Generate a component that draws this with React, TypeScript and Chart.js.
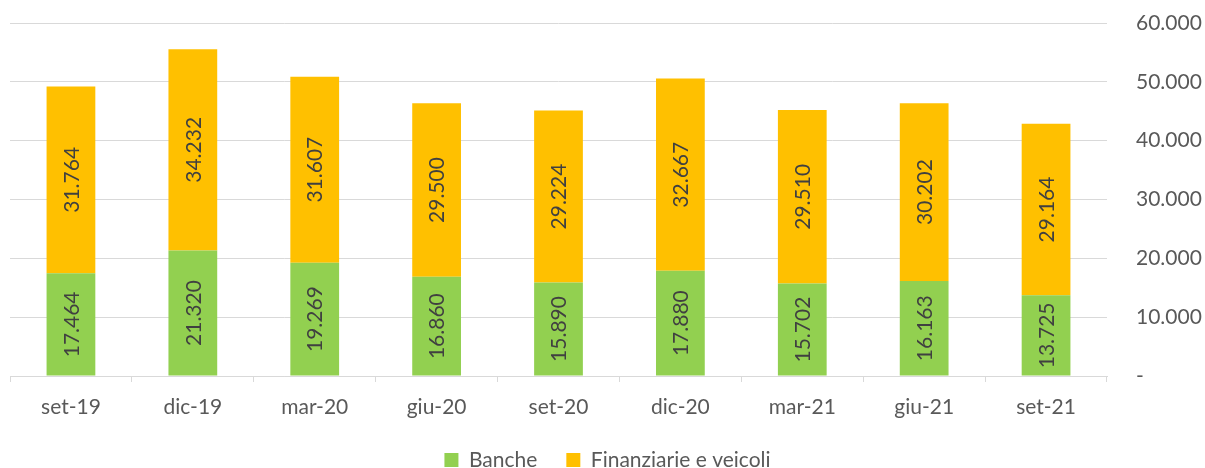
import React, { useEffect, useRef } from "react";
import { Chart, registerables } from "chart.js";

Chart.register(...registerables);

const categories = ["set-19", "dic-19", "mar-20", "giu-20", "set-20", "dic-20", "mar-21", "giu-21", "set-21"];
const banche = [17464, 21320, 19269, 16860, 15890, 17880, 15702, 16163, 13725];
const finanziarie = [31764, 34232, 31607, 29500, 29224, 32667, 29510, 30202, 29164];
const yTicks = [0, 10000, 20000, 30000, 40000, 50000, 60000];

const FONT = "Lato, 'Noto Sans', sans-serif";
const FS = 21;

const fmt = (n: number) => (n === 0 ? "-" : String(Math.round(n)).replace(/\B(?=(\d{3})+(?!\d))/g, "."));

const dataLabelPlugin = {
  id: "vlabels",
  afterDatasetsDraw(chart: any) {
    const ctx = chart.ctx;
    ctx.save();
    ctx.font = `${FS}px ${FONT}`;
    ctx.fillStyle = "#404040";
    ctx.textAlign = "center";
    ctx.textBaseline = "middle";
    chart.data.datasets.forEach((ds: any, di: number) => {
      const meta = chart.getDatasetMeta(di);
      meta.data.forEach((bar: any, i: number) => {
        const cy = (bar.y + bar.base) / 2;
        ctx.save();
        ctx.translate(bar.x, cy);
        ctx.rotate(-Math.PI / 2);
        ctx.fillText(fmt(ds.data[i]), 0, 1);
        ctx.restore();
      });
    });
    ctx.restore();
  },
};

export default function App() {
  const ref = useRef<HTMLCanvasElement>(null);
  useEffect(() => {
    if (!ref.current) return;
    const chart = new Chart(ref.current, {
      type: "bar",
      data: {
        labels: categories,
        datasets: [
          { label: "Banche", data: banche, backgroundColor: "#92D050" },
          { label: "Finanziarie e veicoli", data: finanziarie, backgroundColor: "#FFC000" },
        ],
      },
      options: {
        animation: false,
        responsive: false,
        maintainAspectRatio: false,
        layout: { autoPadding: false, padding: { top: 23, left: 10, right: 0, bottom: 0 } },
        datasets: { bar: { categoryPercentage: 1, barPercentage: 0.4 } } as any,
        scales: {
          x: {
            stacked: true,
            offset: true,
            grid: {
              display: true,
              offset: true,
              drawOnChartArea: false,
              drawTicks: true,
              tickLength: 6,
              color: "#D9D9D9",
            },
            border: { display: true, color: "#D9D9D9" },
            ticks: { color: "#595959", font: { family: FONT, size: FS }, padding: 13, maxRotation: 0 },
            afterFit: (s: any) => {
              s.height = 44.5;
            },
          },
          y: {
            stacked: true,
            position: "right",
            min: 0,
            max: 60000,
            afterBuildTicks: (s: any) => {
              s.ticks = yTicks.map((v) => ({ value: v }));
            },
            grid: { color: "#D9D9D9", drawTicks: true, tickLength: 29, tickColor: "rgba(0,0,0,0)" },
            border: { display: false },
            ticks: {
              color: "#595959",
              font: { family: FONT, size: FS },
              padding: 0,
              callback: (v: any) => fmt(Number(v)),
            },
            afterFit: (s: any) => {
              s.width = 98;
            },
          },
        },
        plugins: {
          legend: {
            position: "bottom",
            maxHeight: 47.5,
            labels: {
              color: "#595959",
              font: { family: FONT, size: FS },
              boxWidth: 14,
              boxHeight: 14,
              padding: 29,
            },
          } as any,
          tooltip: { enabled: false },
        },
      },
      plugins: [dataLabelPlugin],
    });
    return () => chart.destroy();
  }, []);
  return (
    <div style={{ position: "fixed", left: 0, top: 0, width: 1205, height: 468, background: "#fff" }}>
      <canvas ref={ref} width={1205} height={468} style={{ width: 1205, height: 468 }} />
    </div>
  );
}
